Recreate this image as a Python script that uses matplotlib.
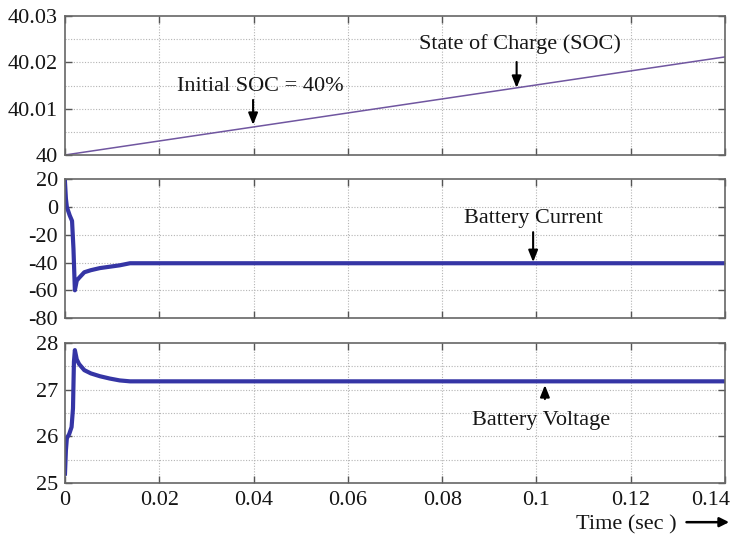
import matplotlib
matplotlib.use("Agg")
import matplotlib.pyplot as plt
from matplotlib.transforms import ScaledTranslation
from matplotlib.patches import FancyArrowPatch

plt.rcParams['font.family'] = ['Liberation Serif', 'DejaVu Serif']

# state of charge (%)
soc_t = [0.0, 0.14]
soc_v = [40.0, 40.0212]

# battery current (A)
cur_t = [0, 0.0002, 0.0004, 0.001, 0.0015, 0.0018, 0.0021, 0.0025, 0.003, 0.0041,
         0.0055, 0.0074, 0.0095, 0.0116, 0.0138, 0.14]
cur_v = [18, 6, 0, -6, -10, -30, -60, -53, -51, -47, -45.5, -44, -43, -42, -40.5, -40.5]

# battery voltage (V)
volt_t = [0, 0.0002, 0.0004, 0.0009, 0.0014, 0.0017, 0.0019, 0.0021, 0.0025, 0.003,
          0.0041, 0.0055, 0.0074, 0.0095, 0.0116, 0.0138, 0.14]
volt_v = [25.2, 25.7, 25.96, 26.05, 26.2, 26.6, 27.6, 27.85, 27.65, 27.55,
          27.42, 27.35, 27.29, 27.24, 27.2, 27.18, 27.18]

xticks = [0, 0.02, 0.04, 0.06, 0.08, 0.1, 0.12, 0.14]
xticklabels = ['0', '0.02', '0.04', '0.06', '0.08', '0.1', '0.12', '0.14']

fig = plt.figure(figsize=(7.35, 5.4), dpi=100)
ax1 = fig.add_axes([0.0884, 0.713, 0.898, 0.257])
ax2 = fig.add_axes([0.0884, 0.411, 0.898, 0.257])
ax3 = fig.add_axes([0.0884, 0.1056, 0.898, 0.259])

txt = '#151515'
fs = 16

def style(ax, ylim, yticks, ylabels, grid_y):
    ax.set_xlim(0, 0.14)
    ax.set_ylim(*ylim)
    ax.set_xticks(xticks)
    ax.set_yticks(yticks)
    ax.set_yticklabels(ylabels, fontsize=fs, color=txt)
    for gy in grid_y:
        ax.axhline(gy, color='#b4b4b4', lw=0.8, ls=(0, (1, 1.5)), zorder=0)
    for gx in xticks[1:-1]:
        ax.axvline(gx, color='#b4b4b4', lw=0.8, ls=(0, (1, 1.5)), zorder=0)
    ax.tick_params(direction='in', top=True, right=True, length=5, width=1,
                   color='#555555')
    ax.tick_params(axis='y', pad=5)
    ax.tick_params(axis='x', pad=6)
    for s in ax.spines.values():
        s.set_color('#666666')
        s.set_linewidth(1.2)

style(ax1, (40, 40.03), [40, 40.01, 40.02, 40.03], ['40', '40.01', '40.02', '40.03'],
      [40.005, 40.01, 40.015, 40.02, 40.025])
style(ax2, (-80, 20), [-80, -60, -40, -20, 0, 20], ['-80', '-60', '-40', '-20', '0', '20'],
      [-60, -40, -20, 0])
style(ax3, (25, 28), [25, 26, 27, 28], ['25', '26', '27', '28'],
      [25.5, 26, 26.5, 27, 27.5])

ax1.set_xticklabels([])
ax2.set_xticklabels([])
ax3.set_xticklabels(xticklabels, fontsize=fs, color=txt)
last = ax3.get_xticklabels()[-1]
last.set_transform(last.get_transform() + ScaledTranslation(-14 / 100, 0, fig.dpi_scale_trans))

ax1.plot(soc_t, soc_v, color='#7056a0', lw=1.1)
ax2.plot(cur_t, cur_v, color='#3535a5', lw=3)
ax3.plot(volt_t, volt_v, color='#3535a5', lw=3)

arrow = dict(arrowstyle='-|>,head_length=0.5,head_width=0.2', color='black', lw=1.5,
             mutation_scale=14, shrinkA=0, shrinkB=0)

ax1.text(0.0414, 40.0149, 'Initial SOC = 40%', ha='center', va='center', fontsize=fs, color=txt)
ax1.annotate('', xy=(0.0399, 40.0065), xytext=(0.0399, 40.0119), arrowprops=arrow)

ax1.text(0.0965, 40.0240, 'State of Charge (SOC)', ha='center', va='center', fontsize=fs, color=txt)
ax1.annotate('', xy=(0.0958, 40.0145), xytext=(0.0958, 40.0201), arrowprops=arrow)

ax2.text(0.0993, -8.0, 'Battery Current', ha='center', va='center', fontsize=fs, color=txt)
ax2.annotate('', xy=(0.0993, -39.7), xytext=(0.0993, -18.1), arrowprops=arrow)

ax3.text(0.1010, 26.35, 'Battery Voltage', ha='center', va='center', fontsize=fs, color=txt)
ax3.annotate('', xy=(0.1018, 27.1), xytext=(0.1018, 26.8), arrowprops=arrow)

fig.text(0.921, 0.028, 'Time (sec )', ha='right', va='center', fontsize=fs, color=txt)
fig.add_artist(FancyArrowPatch((0.934, 0.033), (0.992, 0.033),
               transform=fig.transFigure, arrowstyle='-|>', mutation_scale=14,
               color='black', lw=1.8, shrinkA=0, shrinkB=0))

fig.savefig('out.png', dpi=100, facecolor='white')
